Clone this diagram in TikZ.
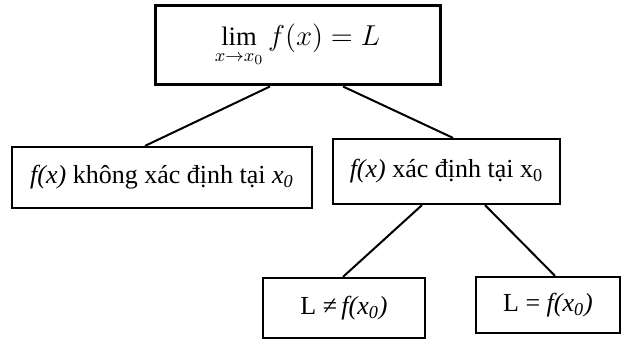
\documentclass[tikz,border=0pt]{standalone}
\usepackage{amsmath,amssymb}
\usepackage{fontspec}
\setmainfont{Liberation Serif}
\usepackage{tikz}
\usetikzlibrary{calc}

\begin{document}
\begin{tikzpicture}[x=0.5pt,y=-0.5pt,
	box/.style={draw,line width=1.1pt,inner sep=0pt,font=\fontsize{13}{15}\selectfont},
	nhanh/.style={line width=1pt}]
	\useasboundingbox (0,0) rectangle (622,340);
	\node[box,line width=1.5pt,minimum width=142.5pt,minimum height=39.5pt,font=\fontsize{13.3}{16}\selectfont] (gh) at (297.5,45.5) {$\displaystyle\lim_{x\to x_0} f(x)=L$};
	\node[box,minimum width=150pt,minimum height=30.5pt] (kxd) at (162,177.5) {\textit{f(x)} không xác định tại \textit{x}\textsubscript{\textit{0}}};
	\node[box,minimum width=113.5pt,minimum height=32.5pt] (xd) at (446.5,171.5) {\textit{f(x)} xác định tại x\textsubscript{0}};
	\node[box,minimum width=81pt,minimum height=30pt] (khac) at (344,308) {L ≠\,\textit{f(x\textsubscript{0})}};
	\node[box,minimum width=72pt,minimum height=28pt] (bang) at (548,305) {L = \textit{f(x\textsubscript{0})}};
	\draw[nhanh] ($(gh.south)+(-27.5,0)$)--($(kxd.north)+(-17,0)$);
	\draw[nhanh] ($(gh.south)+(45.5,0)$)--($(xd.north)+(6.5,0)$);
	\draw[nhanh] ($(xd.south)+(-24.5,0)$)--($(khac.north)+(-1,0)$);
	\draw[nhanh] ($(xd.south)+(38.5,0)$)--($(bang.north)+(7,0)$);
\end{tikzpicture}
\end{document}
